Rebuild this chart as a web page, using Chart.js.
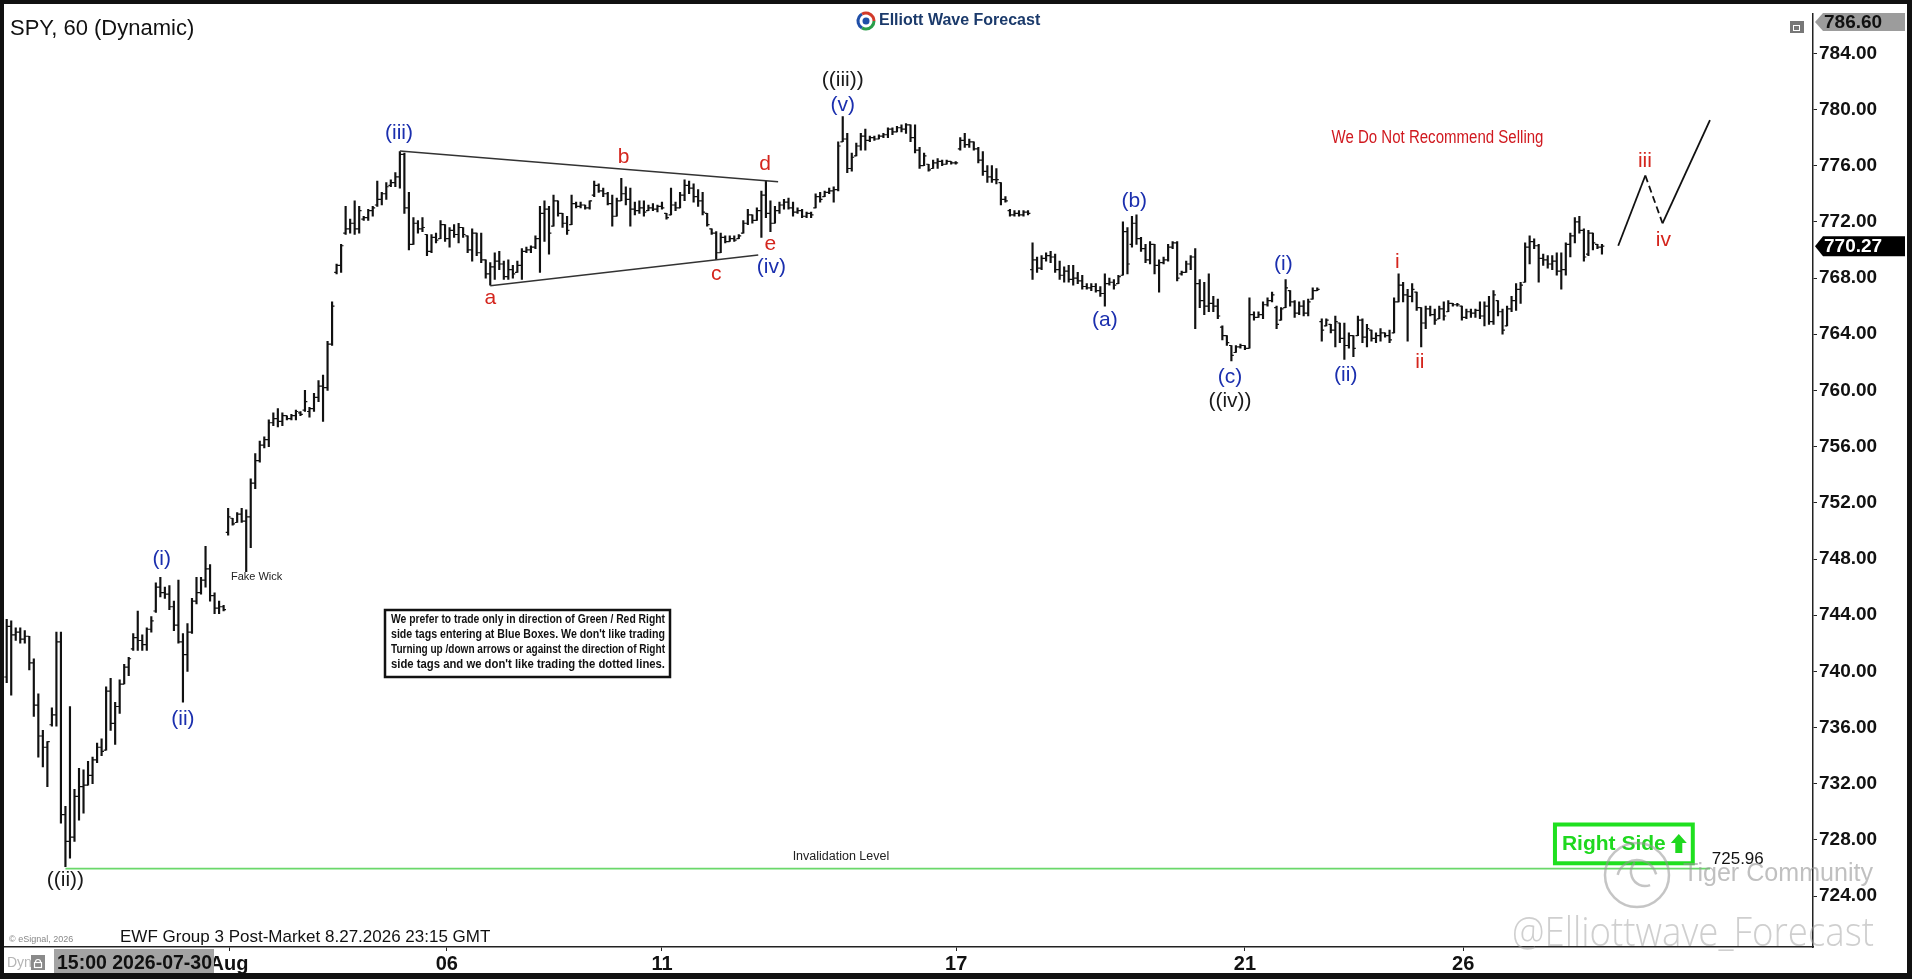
<!DOCTYPE html>
<html>
<head>
<meta charset="utf-8">
<title>SPY 60</title>
<script src="https://cdn.jsdelivr.net/npm/chart.js@4.4.1/dist/chart.umd.min.js"></script>
<style>
  html, body { margin: 0; padding: 0; background: #fff; overflow: hidden; }
  canvas { display: block; }
</style>
</head>
<body>
<canvas id="spy" width="1912" height="979"></canvas>
<script>
// hourly SPY bars
var highs = [
  743.7,743.6,743.1,743.1,742.9,742.5,740.9,738.4,735.8,735.0,737.4,742.8,742.8,730.4,737.5,731.6,733.1,733.0,733.6,733.9,
  734.9,735.2,738.9,739.5,737.8,739.4,740.5,741.0,742.7,744.3,742.6,743.1,743.9,746.3,746.7,746.0,746.1,745.0,746.5,742.7,
  743.4,745.2,746.7,746.7,748.9,747.6,745.6,745.0,744.7,
  751.6,750.9,751.3,751.6,751.5,753.7,755.5,756.4,756.7,757.9,758.4,758.7,758.4,758.2,758.3,758.6,758.5,760.0,758.8,759.8,
  760.7,761.1,763.5,766.3,
  769.0,770.4,773.1,772.2,773.5,773.1,772.4,772.9,773.1,774.9,774.1,774.8,775.0,775.5,777.0,
  776.9,774.1,772.3,772.1,772.3,771.1,771.1,771.2,772.1,771.8,771.6,771.8,771.9,771.6,771.0,771.5,771.2,771.2,769.3,769.1,
  769.8,769.9,769.2,769.3,768.9,769.2,770.1,770.2,770.3,771.0,773.1,773.5,773.1,773.9,773.5,772.6,772.4,773.9,773.4,773.4,
  773.2,773.5,774.9,774.7,774.4,774.1,773.9,773.7,775.1,774.5,774.4,773.4,773.5,773.5,773.2,773.3,773.2,773.4,772.6,774.4,
  773.4,774.1,775.0,774.9,774.7,774.3,774.1,772.6,771.5,771.3,771.2,771.0,771.0,771.0,771.1,772.1,772.9,772.5,773.0,774.2,
  774.9,773.5,773.1,773.4,773.6,773.7,773.4,773.0,772.9,
  772.7,772.7,774.0,774.1,774.2,774.4,774.5,777.7,779.5,778.3,776.9,777.6,778.3,778.6,778.1,778.1,778.2,778.3,778.7,778.7,
  778.8,778.9,779.0,778.9,778.9,777.3,776.9,776.1,776.4,776.5,776.4,776.4,776.3,776.3,778.0,778.3,777.9,777.7,777.3,777.0,
  776.0,776.0,775.8,774.8,773.8,772.9,772.8,772.8,772.8,772.8,
  770.5,769.5,769.6,769.8,769.9,769.7,769.2,768.8,768.9,768.9,768.4,768.2,767.6,767.6,767.6,767.4,768.3,768.0,767.9,768.2,
  772.0,771.6,772.4,772.5,770.9,770.4,770.6,770.4,769.3,769.5,770.4,770.6,770.6,768.5,769.2,769.6,770.1,767.9,767.7,768.3,
  766.7,766.5,764.6,763.9,763.2,763.2,763.3,763.2,766.6,765.6,765.6,766.3,766.6,767.0,766.0,765.9,767.9,767.1,766.4,766.3,
  766.4,766.5,767.3,767.3,
  765.1,765.1,764.7,765.3,764.8,764.8,764.1,763.9,765.3,765.1,764.7,764.3,764.1,764.4,764.1,764.3,766.6,768.3,767.7,767.2,
  767.6,767.0,765.9,766.0,766.0,765.8,766.0,766.3,766.4,766.2,766.2,766.0,765.8,765.8,765.8,766.3,766.3,766.7,767.1,766.4,
  765.8,766.0,766.7,767.6,767.7,770.5,771.0,770.8,770.4,769.7,769.6,769.6,769.8,769.8,770.5,771.2,772.3,772.4,771.5,771.4,
  771.2,770.4,770.4
];
var lows = [
  739.2,738.3,742.2,742.0,742.0,740.1,736.8,733.9,733.2,731.8,736.1,736.1,729.2,726.1,726.7,727.9,729.4,729.9,731.9,732.0,
  733.5,734.0,734.4,735.8,734.8,737.0,739.1,739.7,741.5,741.5,741.5,741.5,742.8,744.2,745.3,745.2,744.4,742.9,742.0,737.8,
  740.0,742.7,744.8,745.5,746.0,745.0,744.1,744.1,744.3,
  749.7,750.4,750.6,750.6,747.1,748.8,753.0,754.9,755.9,756.0,757.5,757.4,757.5,757.9,757.9,757.9,758.2,758.5,758.1,758.5,
  759.2,757.8,760.0,763.2,
  768.3,768.4,771.1,771.2,771.1,771.2,772.1,772.1,772.4,773.1,773.2,773.6,774.5,774.5,774.4,
  772.6,770.0,770.4,771.2,771.3,769.6,769.8,770.5,770.8,770.6,770.2,770.9,770.5,770.9,769.8,769.2,769.6,769.1,768.0,767.5,
  767.9,768.6,767.9,767.9,768.0,768.4,767.9,769.8,769.8,770.1,768.4,770.6,769.7,771.7,772.4,771.6,771.1,771.8,773.0,773.0,
  772.9,772.9,773.8,774.1,773.8,773.2,771.7,772.4,773.5,773.2,771.7,772.5,772.6,772.4,772.8,772.8,772.7,772.9,772.2,772.5,
  772.8,773.0,773.5,774.0,773.4,773.1,772.5,771.7,771.1,769.3,769.8,770.5,770.6,770.6,770.8,771.2,771.8,771.9,772.1,770.9,
  772.3,771.3,771.9,772.6,772.9,772.9,772.4,772.6,772.3,
  772.3,772.3,773.0,773.4,773.8,774.0,773.4,774.2,777.7,775.5,775.6,776.7,777.1,777.1,777.7,777.8,777.9,778.0,778.0,778.2,
  778.4,778.4,778.3,777.7,776.9,775.8,776.0,775.6,775.8,775.8,776.0,776.1,776.1,776.1,777.1,777.3,777.3,777.1,776.2,775.3,
  774.8,774.8,774.7,773.2,773.4,772.4,772.4,772.4,772.4,772.5,
  767.9,768.4,768.6,769.2,769.1,768.4,767.9,767.7,767.7,767.5,767.6,767.2,767.2,767.1,767.0,766.7,766.0,767.5,767.2,767.6,
  768.2,768.3,770.2,770.4,769.9,769.1,769.0,768.3,767.0,769.0,769.2,770.1,767.8,768.2,768.4,768.6,764.4,765.9,765.4,765.6,
  765.6,765.1,763.6,763.2,762.1,762.7,763.0,762.9,763.0,765.0,765.2,765.1,766.0,766.3,764.4,765.0,765.9,766.0,765.2,765.4,
  765.3,765.3,766.5,767.1,
  763.5,764.6,764.1,763.1,763.4,762.2,763.0,762.4,763.9,763.4,763.1,763.5,763.4,763.5,763.8,763.4,764.1,766.3,766.3,763.5,
  766.3,765.7,763.1,764.4,765.3,764.7,765.1,765.0,765.6,766.0,766.0,765.0,765.1,765.2,765.2,765.1,764.6,764.7,764.7,765.3,
  764.0,764.6,765.6,765.7,766.2,767.7,769.0,770.1,767.7,768.9,768.7,768.6,768.2,767.2,768.2,769.5,770.5,771.2,769.2,769.6,
  770.0,770.1,769.7
];
var opens = [
  739.6,743.2,742.6,742.8,742.3,742.5,740.6,737.6,735.4,734.6,736.2,736.9,742.1,729.8,727.9,728.2,731.1,731.8,731.9,732.6,
  733.7,734.6,734.4,738.6,736.3,737.5,739.1,740.3,741.6,742.4,742.2,741.9,743.0,744.3,746.0,745.6,745.5,744.6,743.3,742.1,
  741.2,742.8,745.0,745.6,746.5,747.3,745.4,744.5,744.6,
  749.9,750.9,750.6,751.2,750.7,751.0,753.4,755.0,756.1,756.5,757.7,758.0,757.8,758.2,758.0,758.2,758.4,758.6,758.5,758.7,
  759.5,760.3,760.2,763.3,
  768.4,768.9,771.2,771.5,771.9,771.5,772.2,772.3,772.8,773.2,773.6,774.0,774.6,774.8,775.2,
  776.8,773.0,770.4,771.9,771.5,771.1,769.9,770.9,770.8,771.8,770.8,771.4,771.1,771.6,771.0,770.0,771.2,769.8,769.3,768.3,
  768.8,769.2,769.0,768.1,768.6,768.4,768.9,769.9,770.0,770.2,770.8,772.6,772.9,771.7,773.5,772.6,771.9,771.8,773.3,773.1,
  773.2,773.0,773.9,774.6,774.2,774.0,773.3,772.4,773.5,774.0,773.6,772.9,772.8,773.0,772.8,773.0,772.9,773.1,772.6,772.5,
  773.2,773.0,773.9,774.6,774.4,773.8,773.5,772.6,771.5,771.2,769.8,770.9,770.6,770.8,770.8,771.2,771.9,772.5,772.1,772.8,
  773.9,772.6,771.9,772.8,773.2,773.4,773.0,772.7,772.8,
  772.4,772.6,773.0,773.8,773.8,774.1,774.2,774.3,777.7,777.9,775.8,776.7,777.4,778.1,777.8,778.0,777.9,778.1,778.2,778.6,
  778.4,778.7,778.6,778.9,778.0,777.1,776.0,776.1,775.8,776.2,776.3,776.1,776.3,776.2,777.2,777.8,777.5,777.7,777.2,776.4,
  775.6,775.2,775.0,774.8,773.6,772.8,772.5,772.6,772.5,772.7,
  768.6,769.3,768.7,769.4,769.6,769.5,768.6,768.2,768.5,767.9,768.0,767.8,767.4,767.3,767.4,767.1,766.9,767.6,767.7,767.6,
  768.2,771.3,770.4,771.9,770.8,770.1,769.3,770.4,768.9,769.1,769.3,770.2,770.5,768.3,768.4,769.0,769.5,767.6,766.4,766.0,
  766.2,766.0,764.5,763.9,763.2,762.7,763.1,763.2,763.0,765.4,765.2,765.4,766.1,766.4,765.9,765.0,765.9,767.1,766.3,765.5,
  766.0,765.5,766.5,767.1,
  764.9,764.6,764.7,764.3,764.8,763.7,763.2,763.9,763.9,765.0,763.8,764.3,763.7,763.9,764.1,763.9,764.1,766.3,767.5,766.8,
  766.7,767.0,765.9,764.8,765.8,765.4,765.1,765.8,765.6,766.2,766.1,766.0,765.2,765.6,765.5,765.7,765.3,766.0,764.9,766.4,
  765.6,764.6,765.8,766.4,767.2,767.7,770.2,770.6,770.3,769.4,769.3,769.0,769.2,768.5,768.6,770.4,771.0,772.0,771.4,769.7,
  771.2,770.4,770.2
];
var closes = [
  743.2,742.6,742.8,742.3,742.5,740.6,737.6,735.4,734.6,735.0,736.9,742.1,729.8,727.9,728.2,731.1,731.8,731.9,732.6,733.7,
  734.6,734.3,738.6,736.3,737.5,739.1,740.3,740.9,742.4,742.2,741.9,743.0,743.6,746.0,745.6,745.5,744.6,743.3,742.1,741.2,
  742.8,745.0,745.6,746.5,747.3,745.4,744.5,744.6,744.4,
  751.0,750.5,751.2,750.7,751.0,753.4,755.0,756.1,756.5,757.7,758.0,757.8,758.2,758.0,758.2,758.5,758.3,759.2,758.7,759.5,
  760.3,760.2,763.3,766.0,
  768.9,770.3,771.5,771.9,771.5,772.8,772.3,772.8,773.0,773.6,774.0,774.5,774.8,775.2,776.8,
  773.0,770.4,771.9,771.5,771.6,769.9,770.9,770.7,771.8,770.8,771.4,771.1,771.6,771.1,770.0,771.2,769.8,769.3,768.3,768.8,
  769.2,769.0,768.1,768.6,768.3,768.9,769.9,770.0,770.2,770.8,772.6,772.9,771.2,773.5,772.6,771.9,771.4,773.3,773.1,773.2,
  773.0,773.5,774.6,774.2,774.0,773.3,772.4,773.5,774.0,773.6,772.9,772.8,773.0,772.7,773.0,772.9,773.1,773.0,772.3,773.2,
  773.0,773.9,774.6,774.4,773.8,773.5,772.7,771.8,771.2,769.8,770.9,770.6,770.8,770.7,771.0,771.9,772.5,772.1,772.8,773.9,
  772.6,771.9,772.8,773.2,773.4,773.0,772.7,772.8,772.4,
  772.6,772.5,773.8,773.6,774.1,774.2,774.3,777.4,777.9,775.8,776.6,777.4,778.1,777.8,778.0,777.9,778.1,778.2,778.6,778.4,
  778.7,778.6,778.9,778.0,777.1,776.0,776.7,775.7,776.2,776.3,776.1,776.3,776.2,776.2,777.8,777.5,777.7,777.2,776.4,775.6,
  775.2,775.0,775.0,773.6,773.5,772.5,772.6,772.5,772.7,772.6,
  769.3,768.7,769.4,769.6,769.5,768.6,768.2,768.5,767.9,768.0,767.8,767.4,767.3,767.4,767.1,766.9,767.6,767.7,767.5,768.1,
  771.3,769.0,771.9,770.8,770.1,769.3,770.4,768.9,769.1,769.3,770.2,770.5,768.0,768.4,769.0,769.5,767.6,766.4,766.0,766.2,
  766.0,765.3,763.9,763.4,762.5,763.1,763.2,763.0,765.4,765.2,765.4,766.1,766.4,766.8,764.7,765.8,767.3,766.3,765.5,766.0,
  765.5,766.3,767.1,767.2,
  764.3,765.0,764.3,764.9,763.7,763.2,763.9,763.0,765.0,763.8,764.4,763.7,763.9,764.1,763.9,763.6,766.3,767.5,766.8,766.7,
  767.2,765.9,764.8,765.8,765.4,765.0,765.8,765.3,766.2,766.1,766.1,765.2,765.6,765.5,765.7,765.3,766.0,764.9,766.8,765.6,
  764.3,765.8,766.4,767.2,767.5,770.2,770.6,770.3,769.4,769.3,769.0,769.2,768.5,768.6,770.4,771.0,772.0,771.4,769.5,771.2,
  770.5,770.2,770.27
];

// axis ticks
var dateTickBars = [49.2, 97.4, 145.0, 210.1, 274.0, 322.3];
var dateTickLabels = ['Aug', '06', '11', '17', '21', '26'];
var priceTicks = [724, 728, 732, 736, 740, 744, 748, 752, 756, 760, 764, 768, 772, 776, 780, 784];
var lastPrice = 770.27;
var invalidation = 725.96;

// wave counts: text, bar, price, colour
var waveLabels = [
  ['((ii))', 13, 725.1, 'k'], ['(i)', 34.3, 748.0, 'b'], ['(ii)', 39, 736.6, 'b'],
  ['(iii)', 86.8, 778.3, 'b'], ['a', 107, 766.6, 'r'], ['b', 136.5, 776.6, 'r'],
  ['c', 157, 768.3, 'r'], ['d', 167.8, 776.1, 'r'], ['e', 169, 770.4, 'r'],
  ['(iv)', 169.2, 768.8, 'b'], ['((iii))', 185, 782.1, 'k'], ['(v)', 185, 780.3, 'b'],
  ['(a)', 243, 765.0, 'b'], ['(b)', 249.5, 773.5, 'b'], ['(c)', 270.7, 760.95, 'b'],
  ['((iv))', 270.7, 759.2, 'k'], ['(i)', 282.5, 769.0, 'b'], ['(ii)', 296.3, 761.1, 'b'],
  ['i', 307.7, 769.1, 'r'], ['ii', 312.7, 762.0, 'r'], ['iii', 362.5, 776.3, 'r'], ['iv', 366.6, 770.7, 'r']
];
var triangleTop = [[87, 777.05], [170.7, 774.85]];
var triangleBottom = [[107, 767.45], [166.3, 769.64]];
var projection = [[356.6, 770.3], [362.6, 775.3], [366.4, 771.9], [376.9, 779.25]];

var labelColors = { b: '#1b2fae', r: '#d4251d', k: '#1a1a1a' };
var SANS = '"Liberation Sans", Arial, sans-serif';
var NARROW = '"Liberation Sans Narrow", "Liberation Sans", Arial, sans-serif';

var ohlcTicks = {
  id: 'ohlcTicks',
  afterDatasetsDraw: function(chart) {
    var ctx = chart.ctx, xs = chart.scales.x, ys = chart.scales.y;
    ctx.save();
    ctx.strokeStyle = '#111';
    ctx.lineWidth = 1.2;
    ctx.beginPath();
    for (var i = 0; i < highs.length; i++) {
      var px = xs.getPixelForValue(i);
      var po = ys.getPixelForValue(opens[i]);
      var pc = ys.getPixelForValue(closes[i]);
      ctx.moveTo(px - 2.4, po); ctx.lineTo(px, po);
      ctx.moveTo(px, pc); ctx.lineTo(px + 2.4, pc);
    }
    ctx.stroke();
    ctx.restore();
  }
};

function text(ctx, s, x, y, font, color, align, maxW) {
  ctx.font = font;
  ctx.fillStyle = color;
  ctx.textAlign = align || 'center';
  ctx.textBaseline = 'middle';
  if (maxW) ctx.fillText(s, x, y, maxW); else ctx.fillText(s, x, y);
}

var overlay = {
  id: 'overlay',
  beforeDraw: function(chart) {
    var ctx = chart.ctx;
    ctx.save();
    ctx.fillStyle = '#fff';
    ctx.fillRect(0, 0, chart.width, chart.height);
    ctx.restore();
  },
  afterDraw: function(chart) {
    var ctx = chart.ctx, xs = chart.scales.x, ys = chart.scales.y;
    var X = function(v) { return xs.getPixelForValue(v); };
    var Y = function(v) { return ys.getPixelForValue(v); };
    var area = chart.chartArea;
    ctx.save();

    // invalidation line
    ctx.strokeStyle = '#6ad86a';
    ctx.lineWidth = 1.8;
    ctx.beginPath();
    ctx.moveTo(X(13), Y(invalidation));
    ctx.lineTo(X(376.9), Y(invalidation));
    ctx.stroke();
    text(ctx, 'Invalidation Level', X(184.6), Y(726.8), '12.5px ' + SANS, '#222');
    text(ctx, invalidation.toFixed(2), X(377.3), Y(726.6), '17px ' + SANS, '#111', 'left');

    // triangle
    ctx.strokeStyle = '#333';
    ctx.lineWidth = 1.5;
    [triangleTop, triangleBottom].forEach(function(seg) {
      ctx.beginPath();
      ctx.moveTo(X(seg[0][0]), Y(seg[0][1]));
      ctx.lineTo(X(seg[1][0]), Y(seg[1][1]));
      ctx.stroke();
    });

    // projected path
    ctx.strokeStyle = '#111';
    ctx.lineWidth = 1.8;
    for (var k = 0; k < projection.length - 1; k++) {
      ctx.setLineDash(k === 1 ? [7, 4] : []);
      ctx.beginPath();
      ctx.moveTo(X(projection[k][0]), Y(projection[k][1]));
      ctx.lineTo(X(projection[k + 1][0]), Y(projection[k + 1][1]));
      ctx.stroke();
    }
    ctx.setLineDash([]);

    // wave labels
    waveLabels.forEach(function(w) {
      text(ctx, w[0], X(w[1]), Y(w[2]), '21px ' + SANS, labelColors[w[3]]);
    });
    text(ctx, 'Fake Wick', X(55.3), Y(746.7), '11px ' + SANS, '#222');
    text(ctx, 'We Do Not Recommend Selling', X(316.6), Y(778.0), '18px ' + NARROW, '#d0191f', 'center', 212);

    // note box
    ctx.fillStyle = '#fff';
    ctx.fillRect(385, 610, 285, 67);
    ctx.strokeStyle = '#111';
    ctx.lineWidth = 2.5;
    ctx.strokeRect(385, 610, 285, 67);
    var note = [
      'We prefer to trade only in direction of Green / Red Right',
      'side tags entering at Blue Boxes. We don\'t like trading',
      'Turning up /down arrows or against the direction of Right',
      'side tags and we don\'t like trading the dotted lines.'
    ];
    note.forEach(function(line, j) {
      text(ctx, line, 391, 620 + j * 15, 'bold 12px ' + NARROW, '#111', 'left', 274);
    });

    // right side tag
    var rx1 = X(342.6), rx2 = X(373.1), ry1 = Y(729.1), ry2 = Y(726.34);
    ctx.strokeStyle = '#1fe01f';
    ctx.lineWidth = 4;
    ctx.strokeRect(rx1, ry1, rx2 - rx1, ry2 - ry1);
    text(ctx, 'Right Side', rx1 + 7, (ry1 + ry2) / 2, 'bold 21px ' + SANS, '#1fd81f', 'left');
    var ax = rx2 - 14, ay = (ry1 + ry2) / 2;
    ctx.fillStyle = '#1fd81f';
    ctx.beginPath();
    ctx.moveTo(ax, ay - 10); ctx.lineTo(ax + 8, ay - 1); ctx.lineTo(ax + 3.5, ay - 1);
    ctx.lineTo(ax + 3.5, ay + 9); ctx.lineTo(ax - 3.5, ay + 9); ctx.lineTo(ax - 3.5, ay - 1);
    ctx.lineTo(ax - 8, ay - 1); ctx.closePath();
    ctx.fill();

    // price tags on the axis
    var tagL = area.right + 2;
    ctx.fillStyle = '#9c9c9c';
    ctx.beginPath();
    ctx.moveTo(tagL, 22); ctx.lineTo(tagL + 8, 13); ctx.lineTo(1905, 13);
    ctx.lineTo(1905, 31); ctx.lineTo(tagL + 8, 31); ctx.closePath();
    ctx.fill();
    text(ctx, '786.60', tagL + 9, 22.5, 'bold 19px ' + SANS, '#111', 'left');
    var ly = Y(lastPrice);
    ctx.fillStyle = '#000';
    ctx.beginPath();
    ctx.moveTo(tagL, ly); ctx.lineTo(tagL + 8, ly - 10); ctx.lineTo(1905, ly - 10);
    ctx.lineTo(1905, ly + 10); ctx.lineTo(tagL + 8, ly + 10); ctx.closePath();
    ctx.fill();
    text(ctx, lastPrice.toFixed(2), tagL + 9, ly + 0.5, 'bold 19px ' + SANS, '#fff', 'left');

    // header
    text(ctx, 'SPY, 60 (Dynamic)', 10, 29, '22px ' + SANS, '#111', 'left');
    var cx = 866, cy = 21;
    ctx.lineWidth = 3;
    [['#2a9d4a', 0, 2.1], ['#1f4fa8', 2.1, 4.2], ['#d23a2a', 4.2, 6.28]].forEach(function(a) {
      ctx.strokeStyle = a[0];
      ctx.beginPath();
      ctx.arc(cx, cy, 8, a[1], a[2]);
      ctx.stroke();
    });
    ctx.fillStyle = '#1f4fa8';
    ctx.beginPath(); ctx.arc(cx, cy, 3.5, 0, 6.28); ctx.fill();
    text(ctx, 'Elliott Wave Forecast', 879, 21, 'bold 16px ' + SANS, '#1b3a6b', 'left');
    ctx.fillStyle = '#777';
    ctx.fillRect(1790, 21, 14, 12);
    ctx.strokeStyle = '#fff';
    ctx.lineWidth = 1;
    ctx.strokeRect(1793.5, 25.5, 6, 5);

    // footer
    text(ctx, '\u00a9 eSignal, 2026', 9, 940, '9px ' + SANS, '#888', 'left');
    text(ctx, 'EWF Group 3 Post-Market 8.27.2026 23:15 GMT', 120, 937, '17px ' + SANS, '#111', 'left');
    ctx.fillStyle = '#a3a3a3';
    ctx.fillRect(54, 949, 160, 27);
    text(ctx, '15:00 2026-07-30', 57, 963.5, 'bold 21px ' + SANS, '#111', 'left', 155);
    text(ctx, 'Dyn', 7, 963, '14px ' + SANS, '#b5b5b5', 'left');
    ctx.fillStyle = '#8a8a8a';
    ctx.fillRect(31, 955, 14, 15);
    ctx.strokeStyle = '#fff';
    ctx.lineWidth = 1.2;
    ctx.strokeRect(34.5, 962.5, 7, 5);
    ctx.beginPath(); ctx.arc(38, 962, 2.5, Math.PI, 0); ctx.stroke();

    // watermarks
    ctx.strokeStyle = 'rgba(150,150,150,0.55)';
    ctx.lineWidth = 2.5;
    ctx.beginPath(); ctx.arc(1637, 875, 32, 0, 6.28); ctx.stroke();
    ctx.beginPath(); ctx.arc(1637, 880, 20, 3.4, 6.0); ctx.stroke();
    ctx.beginPath(); ctx.arc(1645, 872, 14, 1.2, 3.9); ctx.stroke();
    text(ctx, 'Tiger Community', 1683, 874, '26px ' + SANS, 'rgba(150,150,150,0.6)', 'left', 190);
    text(ctx, '@Elliottwave_Forecast', 1512, 935, '300 40px "Open Sans", ' + SANS, 'rgba(160,160,160,0.5)', 'left', 362);

    // window frame
    ctx.fillStyle = '#111';
    ctx.fillRect(0, 0, 1912, 4);
    ctx.fillRect(0, 0, 4, 979);
    ctx.fillRect(1907, 0, 5, 979);
    ctx.fillRect(0, 973, 1912, 6);
    ctx.restore();
  }
};

var ctx = document.getElementById('spy').getContext('2d');
var barData = highs.map(function(h, i) { return { x: i, y: [lows[i], h] }; });

var spyChart = new Chart(ctx, {
  type: 'bar',
  data: {
    datasets: [{
      label: 'SPY',
      data: barData,
      backgroundColor: '#111',
      borderWidth: 0,
      barThickness: 1.5,
      grouped: false
    }]
  },
  options: {
    responsive: false,
    animation: false,
    devicePixelRatio: 1,
    layout: { padding: { left: 4, top: 10, right: 0, bottom: 0 } },
    plugins: { legend: { display: false }, tooltip: { enabled: false } },
    scales: {
      x: {
        type: 'linear',
        min: -0.597,
        max: 399.7,
        offset: false,
        grid: { offset: false, drawOnChartArea: false, drawTicks: true, tickLength: 4, color: '#222' },
        border: { display: true, color: '#222', width: 1.5 },
        afterBuildTicks: function(scale) {
          scale.ticks = dateTickBars.map(function(v) { return { value: v }; });
        },
        afterFit: function(scale) { scale.height = 32; },
        ticks: {
          autoSkip: false, maxRotation: 0, minRotation: 0, padding: 1,
          color: '#111',
          font: { family: SANS, size: 20, weight: 'bold' },
          callback: function(v, i) { return dateTickLabels[i]; }
        }
      },
      y: {
        position: 'right',
        min: 720.38,
        max: 786.84,
        grid: { drawOnChartArea: false, drawTicks: true, tickLength: 4, color: '#222' },
        border: { display: true, color: '#222', width: 1.5 },
        afterBuildTicks: function(scale) {
          scale.ticks = priceTicks.map(function(v) { return { value: v }; });
        },
        afterFit: function(scale) { scale.width = 99; },
        ticks: {
          padding: 2,
          color: '#111',
          font: { family: SANS, size: 19, weight: 'bold' },
          callback: function(v) { return Number(v).toFixed(2); }
        }
      }
    }
  },
  plugins: [ohlcTicks, overlay]
});
</script>
</body>
</html>
